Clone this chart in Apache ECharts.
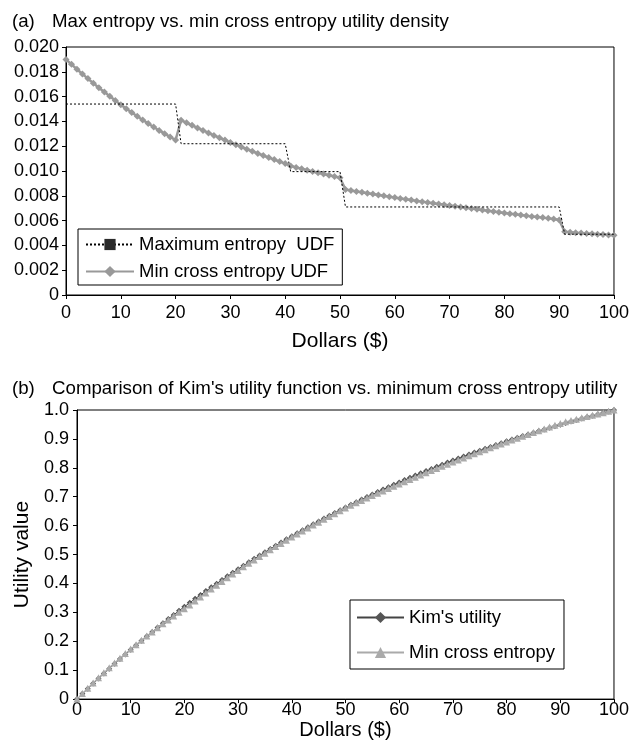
<!DOCTYPE html>
<html>
<head>
<meta charset="utf-8">
<script src="https://cdn.jsdelivr.net/npm/echarts@6/dist/echarts.min.js"></script>
<style>
html,body{margin:0;padding:0;background:#fff;}
#chart{width:632px;height:741px;}
</style>
</head>
<body>
<div id="chart"></div>
<script>
const dollars = [0,1,2,3,4,5,6,7,8,9,10,11,12,13,14,15,16,17,18,19,20,21,22,23,24,25,26,27,28,29,30,31,32,33,34,35,36,37,38,39,40,41,42,43,44,45,46,47,48,49,50,51,52,53,54,55,56,57,58,59,60,61,62,63,64,65,66,67,68,69,70,71,72,73,74,75,76,77,78,79,80,81,82,83,84,85,86,87,88,89,90,91,92,93,94,95,96,97,98,99,100];

// (a) maximum entropy UDF: step function breakpoints
const maxEntropyX = [0,20,21,40,41,50,51,90,91,100];
const maxEntropyY = [0.0154,0.0154,0.0122,0.0122,0.00995,0.00995,0.0071,0.0071,0.0049,0.0049];

// (a) min cross entropy UDF
const minCrossDensity = [
0.01900,0.01860,0.01821,0.01782,0.01745,0.01708,0.01672,0.01637,0.01602,0.01568,
0.01535,0.01503,0.01472,0.01442,0.01412,0.01383,0.01355,0.01327,0.01301,0.01275,
0.01250,0.01410,0.01389,0.01368,0.01347,0.01327,0.01307,0.01287,0.01268,0.01249,
0.01230,0.01212,0.01194,0.01176,0.01159,0.01142,0.01125,0.01108,0.01092,0.01076,
0.01060,0.01040,0.01029,0.01018,0.01007,0.00996,0.00986,0.00976,0.00966,0.00956,
0.00946,0.00850,0.00843,0.00835,0.00828,0.00821,0.00814,0.00807,0.00800,0.00793,
0.00786,0.00779,0.00772,0.00766,0.00759,0.00753,0.00746,0.00740,0.00733,0.00727,
0.00721,0.00715,0.00709,0.00703,0.00697,0.00691,0.00685,0.00679,0.00673,0.00668,
0.00662,0.00656,0.00651,0.00645,0.00640,0.00634,0.00629,0.00624,0.00618,0.00613,
0.00605,0.00510,0.00506,0.00503,0.00499,0.00496,0.00493,0.00490,0.00487,0.00484,
0.00481];

// (b) Kim's utility
const kimUtility = [
0,0.0181,0.0360,0.0537,0.0711,0.0883,0.1053,0.1220,0.1385,0.1547,
0.1705,0.1863,0.2019,0.2173,0.2325,0.2475,0.2623,0.2769,0.2913,0.3055,
0.3195,0.3333,0.3469,0.3603,0.3735,0.3865,0.3994,0.4121,0.4246,0.4369,
0.4495,0.4615,0.4734,0.4851,0.4967,0.5081,0.5194,0.5306,0.5416,0.5525,
0.5632,0.5738,0.5842,0.5945,0.6047,0.6147,0.6246,0.6343,0.6439,0.6534,
0.6627,0.6719,0.6810,0.6900,0.6989,0.7076,0.7162,0.7247,0.7331,0.7414,
0.7494,0.7575,0.7655,0.7734,0.7811,0.7887,0.7962,0.8036,0.8109,0.8181,
0.8252,0.8322,0.8391,0.8459,0.8526,0.8593,0.8659,0.8724,0.8788,0.8851,
0.8915,0.8976,0.9037,0.9097,0.9156,0.9214,0.9271,0.9327,0.9383,0.9438,
0.9493,0.9547,0.9600,0.9652,0.9704,0.9755,0.9805,0.9855,0.9904,0.9952,
1.0000];

// (b) min cross entropy utility
const minCrossUtility = [
0,0.0190,0.0376,0.0558,0.0736,0.0911,0.1082,0.1249,0.1413,0.1573,
0.1730,0.1883,0.2033,0.2180,0.2324,0.2465,0.2603,0.2739,0.2872,0.3002,
0.3129,0.3254,0.3395,0.3534,0.3671,0.3806,0.3939,0.4070,0.4199,0.4326,
0.4451,0.4574,0.4695,0.4814,0.4932,0.5048,0.5162,0.5275,0.5386,0.5495,
0.5603,0.5709,0.5813,0.5916,0.6018,0.6119,0.6219,0.6317,0.6415,0.6512,
0.6608,0.6703,0.6788,0.6872,0.6956,0.7039,0.7121,0.7202,0.7283,0.7363,
0.7442,0.7521,0.7599,0.7676,0.7753,0.7829,0.7904,0.7979,0.8053,0.8126,
0.8199,0.8271,0.8343,0.8414,0.8484,0.8554,0.8623,0.8692,0.8760,0.8827,
0.8894,0.8960,0.9026,0.9091,0.9156,0.9220,0.9283,0.9346,0.9408,0.9470,
0.9531,0.9592,0.9637,0.9683,0.9728,0.9773,0.9818,0.9864,0.9909,0.9955,
1.0000];

const titleA = 'Max entropy vs. min cross entropy utility density';
const titleB = "Comparison of Kim's utility function vs. minimum cross entropy utility";
const xName = 'Dollars ($)';
const yNameB = 'Utility value';
const seriesNames = ['Maximum entropy  UDF', 'Min cross entropy UDF', "Kim's utility", 'Min cross entropy'];

const FONT = '"Liberation Sans", Arial, Helvetica, sans-serif';
const chart = echarts.init(document.getElementById('chart'), null, {renderer: 'canvas'});

const axisCommon = {
  axisLine: {show: true, onZero: false, lineStyle: {color: '#000', width: 1}},
  axisTick: {show: true, inside: false, length: 4, lineStyle: {color: '#000'}},
  splitLine: {show: false},
  axisLabel: {color: '#000', fontSize: 18, fontFamily: FONT}
};
const titleStyle = {fontSize: 18.7, fontWeight: 'normal', color: '#000', fontFamily: FONT};

const option = {
  animation: false,
  backgroundColor: '#fff',
  title: [
    {text: '(a)', left: 7, top: 7, textStyle: titleStyle},
    {text: titleA, left: 47, top: 7, textStyle: titleStyle},
    {text: '(b)', left: 7, top: 374, textStyle: titleStyle},
    {text: titleB, left: 47, top: 374, textStyle: titleStyle}
  ],
  grid: [
    {left: 66, right: 18, top: 47, height: 248, show: true, borderColor: '#000', borderWidth: 1, backgroundColor: 'transparent'},
    {left: 77, right: 18, top: 410, height: 300, show: true, borderColor: '#000', borderWidth: 1, backgroundColor: 'transparent'}
  ],
  legend: [
    {
      orient: 'vertical', left: 78, top: 229, selectedMode: false,
      data: [seriesNames[0], seriesNames[1]],
      itemWidth: 48, itemHeight: 14, itemGap: 8,
      padding: [6, 8, 4, 7],
      borderColor: '#000', borderWidth: 1, backgroundColor: '#fff',
      textStyle: {fontSize: 18.5, color: '#000', fontFamily: FONT}
    },
    {
      orient: 'vertical', left: 350, top: 600, selectedMode: false,
      data: [seriesNames[2], seriesNames[3]],
      itemWidth: 47, itemHeight: 14, itemGap: 16,
      padding: [8, 9, 7, 6],
      borderColor: '#000', borderWidth: 1, backgroundColor: '#fff',
      textStyle: {fontSize: 18.5, color: '#000', fontFamily: FONT}
    }
  ],
  xAxis: [
    Object.assign({}, axisCommon, {
      type: 'value', gridIndex: 0, min: 0, max: 100, interval: 10,
      name: xName, nameLocation: 'middle', nameGap: 36,
      nameTextStyle: {fontSize: 21, color: '#000', fontFamily: FONT},
      axisLabel: Object.assign({}, axisCommon.axisLabel, {margin: 9})
    }),
    Object.assign({}, axisCommon, {
      type: 'value', gridIndex: 1, min: 0, max: 100, interval: 10,
      name: xName, nameLocation: 'middle', nameGap: 13,
      nameTextStyle: {fontSize: 20, color: '#000', fontFamily: FONT},
      axisLabel: Object.assign({}, axisCommon.axisLabel, {margin: 2})
    })
  ],
  yAxis: [
    Object.assign({}, axisCommon, {
      type: 'value', gridIndex: 0, min: 0, max: 0.02, interval: 0.002,
      axisLabel: Object.assign({}, axisCommon.axisLabel, {margin: 7,
        formatter: v => (Math.abs(v) < 1e-12 ? '0' : v.toFixed(3))})
    }),
    Object.assign({}, axisCommon, {
      type: 'value', gridIndex: 1, min: 0, max: 1, interval: 0.1,
      name: yNameB, nameLocation: 'middle', nameGap: 41, nameRotate: 90,
      nameTextStyle: {fontSize: 21, color: '#000', fontFamily: FONT},
      axisLabel: Object.assign({}, axisCommon.axisLabel, {margin: 8,
        formatter: v => (Math.abs(v) < 1e-12 ? '0' : v.toFixed(1))})
    })
  ],
  series: [
    {
      name: seriesNames[0], type: 'line', xAxisIndex: 0, yAxisIndex: 0,
      data: maxEntropyX.map((x, i) => [x, maxEntropyY[i]]),
      symbol: 'rect', symbolSize: 8, showSymbol: false,
      lineStyle: {color: '#000', width: 1, type: [2, 2]},
      itemStyle: {color: '#2a2a2a'}, z: 3
    },
    {
      name: seriesNames[1], type: 'line', xAxisIndex: 0, yAxisIndex: 0,
      data: dollars.map((x, i) => [x, minCrossDensity[i]]),
      symbol: 'diamond', symbolSize: 7,
      lineStyle: {color: '#999', width: 2.5},
      itemStyle: {color: '#999'}, z: 2
    },
    {
      name: seriesNames[2], type: 'line', xAxisIndex: 1, yAxisIndex: 1,
      data: dollars.map((x, i) => [x, kimUtility[i]]),
      symbol: 'diamond', symbolSize: 6,
      lineStyle: {color: '#444', width: 1},
      itemStyle: {color: '#555'}, z: 2
    },
    {
      name: seriesNames[3], type: 'line', xAxisIndex: 1, yAxisIndex: 1,
      data: dollars.map((x, i) => [x, minCrossUtility[i]]),
      symbol: 'triangle', symbolSize: 7,
      lineStyle: {color: '#aaa', width: 1.2},
      itemStyle: {color: '#aaa'}, z: 3
    }
  ]
};
chart.setOption(option);
</script>
</body>
</html>
